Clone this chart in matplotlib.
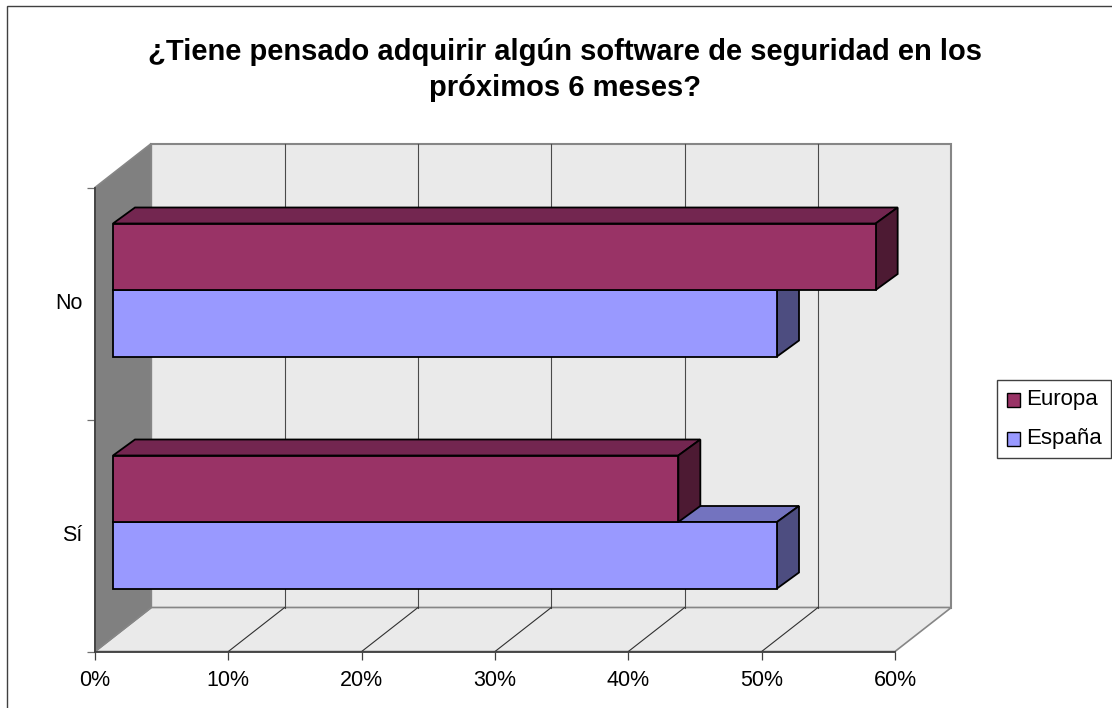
import matplotlib
matplotlib.use("Agg")
import matplotlib.pyplot as plt
from matplotlib.patches import Polygon, Patch, Rectangle
from matplotlib.transforms import ScaledTranslation

title = "¿Tiene pensado adquirir algún software de seguridad en los\npróximos 6 meses?"
categories = ["Sí", "No"]
europa = [42.4, 57.2]
espana = [49.8, 49.8]
series_names = ["Europa", "España"]
x_ticks = [0, 10, 20, 30, 40, 50, 60]

W, H = 1112, 708
plt.rcParams["font.family"] = ["Liberation Sans", "DejaVu Sans"]
fig = plt.figure(figsize=(W / 100, H / 100), dpi=100, facecolor="white")
fig.add_artist(Rectangle((7 / W, 1 - 6 / H - 800 / H), 1200 / W, 800 / H, transform=fig.transFigure,
                         fill=False, ec="#404040", lw=1.0))

L, R, T, B = 95, 895, 187.5, 651.5
ax = fig.add_axes([L / W, 1 - B / H, (R - L) / W, (B - T) / H])
ax.set_xlim(0, 60)
ax.set_ylim(0, 2)
px, py = 60 / (R - L), 2 / (B - T)

WALL_DX, WALL_DY = 56.3 * px, 44 * py
BAR_X0, BAR_Y0 = 18 * px, 13.5 * py
BAR_DX, BAR_DY = 22 * px, 16 * py
BAR_H = 66.5 * py
CLR = {"Europa": ("#993366", "#732650", "#4D1A33"), "España": ("#9999FF", "#7373BF", "#4D4D80")}
GRAY = "#868686"

# Walls and floor
ax.add_patch(Polygon([(WALL_DX, WALL_DY), (60 + WALL_DX, WALL_DY), (60 + WALL_DX, 2 + WALL_DY), (WALL_DX, 2 + WALL_DY)],
                     fc="#EAEAEA", ec=GRAY, lw=1.5, clip_on=False, zorder=1))
ax.add_patch(Polygon([(0, 0), (60, 0), (60 + WALL_DX, WALL_DY), (WALL_DX, WALL_DY)],
                     fc="#EAEAEA", ec=GRAY, lw=1.2, clip_on=False, zorder=1))
ax.add_patch(Polygon([(0, 0), (WALL_DX, WALL_DY), (WALL_DX, 2 + WALL_DY), (0, 2)],
                     fc="#808080", ec=GRAY, lw=1.2, clip_on=False, zorder=1))
for t in x_ticks[1:-1]:
    ax.plot([t + WALL_DX] * 2, [WALL_DY, 2 + WALL_DY], color="#4A4A4A", lw=0.8, clip_on=False, zorder=2)
    ax.plot([t, t + WALL_DX], [0, WALL_DY], color="#303030", lw=0.8, clip_on=False, zorder=2)

# Bars: within each category España first, so Europa's front face covers España's top
zo = 3.0
for i in [1, 0]:
    base = i + 0.5 + BAR_Y0
    for name, val, yb in [("España", espana[i], base - BAR_H), ("Europa", europa[i], base)]:
        front, top, side = CLR[name]
        x0, x1 = BAR_X0, BAR_X0 + val
        ax.add_patch(Polygon([(x0, yb + BAR_H), (x1, yb + BAR_H), (x1 + BAR_DX, yb + BAR_H + BAR_DY), (x0 + BAR_DX, yb + BAR_H + BAR_DY)],
                             fc=top, ec="black", lw=1.3, joinstyle="miter", clip_on=False, zorder=zo))
        ax.add_patch(Polygon([(x1, yb), (x1 + BAR_DX, yb + BAR_DY), (x1 + BAR_DX, yb + BAR_H + BAR_DY), (x1, yb + BAR_H)],
                             fc=side, ec="black", lw=1.3, joinstyle="miter", clip_on=False, zorder=zo))
        ax.barh(yb, val, left=x0, height=BAR_H, align="edge", color=front, edgecolor="black", lw=1.3,
                zorder=zo + 0.01, clip_on=False)
        zo += 0.1

# Axes
ax.patch.set_visible(False)
for s in ["top", "right"]:
    ax.spines[s].set_visible(False)
for s in ["left", "bottom"]:
    ax.spines[s].set_color("#404040")
    ax.spines[s].set_linewidth(1.3)
    ax.spines[s].set_zorder(2.5)
ax.set_xticks(x_ticks)
ax.set_xticklabels([f"{t}%" for t in x_ticks])
ax.tick_params(axis="x", length=5.5, width=0.9, color="#404040", pad=7.5, labelsize=15.5)
ax.set_yticks([0, 1, 2])
ax.set_yticklabels([])
ax.tick_params(axis="y", which="major", length=6, width=0.9, color="#707070")
ax.set_yticks([0.5, 1.5], minor=True)
ax.set_yticklabels(categories, minor=True)
ax.tick_params(axis="y", which="minor", length=0, pad=9, labelsize=15.5)
for lbl in ax.get_yticklabels(minor=True):
    lbl.set_transform(lbl.get_transform() + ScaledTranslation(0, 1.5 / 72, fig.dpi_scale_trans))

fig.text(565 / W, 1 - 70 / H, title, ha="center", va="center", fontsize=21, fontweight="bold", linespacing=1.34)

handles = [Patch(fc=CLR[n][0], ec="black", lw=1.0) for n in series_names]
leg = fig.legend(handles, series_names, loc="lower left", bbox_to_anchor=(996.5 / W, 1 - 458 / H),
                 bbox_transform=fig.transFigure, borderaxespad=0, fontsize=16, fancybox=False, framealpha=1,
                 edgecolor="#404040", handlelength=0.58, handleheight=0.58, handletextpad=0.36,
                 labelspacing=0.8, borderpad=0.4)
for h in leg.legend_handles:
    h.set_y(h.get_y() - 2)
    h.set_x(h.get_x() + 1.2)

fig.savefig("out.png", dpi=100)
